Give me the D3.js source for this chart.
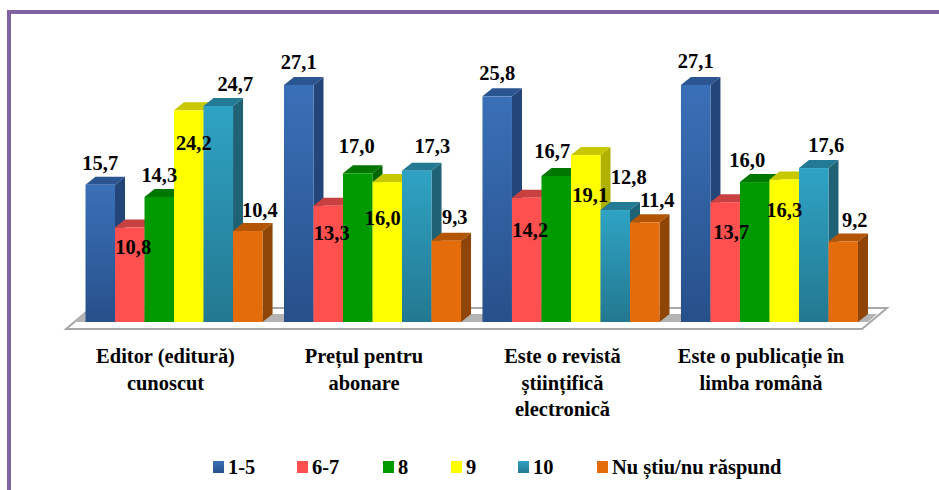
<!DOCTYPE html>
<html>
<head>
<meta charset="utf-8">
<script src="https://cdn.jsdelivr.net/npm/d3@7"></script>
<style>
html, body { margin: 0; padding: 0; background: #fff; }
text { font-family: "Liberation Serif", serif; font-weight: bold; fill: #000; }
</style>
</head>
<body>
<div id="chart"></div>
<script>
var categories = [
    ['Editor (editură)', 'cunoscut'],
    ['Prețul pentru', 'abonare'],
    ['Este o revistă', 'științifică', 'electronică'],
    ['Este o publicație în', 'limba română']
];
var seriesNames = ['1-5', '6-7', '8', '9', '10', 'Nu știu/nu răspund'];
var values15 = [15.7, 27.1, 25.8, 27.1];
var values67 = [10.8, 13.3, 14.2, 13.7];
var values8 = [14.3, 17.0, 16.7, 16.0];
var values9 = [24.2, 16.0, 19.1, 16.3];
var values10 = [24.7, 17.3, 12.8, 17.6];
var valuesNs = [10.4, 9.3, 11.4, 9.2];
var seriesValues = [values15, values67, values8, values9, values10, valuesNs];

// label nudges from the default spot above each bar, [dx, dy] by series then category
var labelNudge = [
    [[0, 0], [0, -1], [0, -1], [0, -2]],
    [[3.5, 41], [3.5, 49], [3.5, 54], [6, 52]],
    [[0, 0], [-1, -5], [-4, -3], [-7.5, 0]],
    [[5, 55], [-4.5, 58], [4.5, 62], [0, 53]],
    [[17, 0], [15.5, -3], [13.5, -11], [12.5, -1]],
    [[12, 1], [8.5, -2], [12.5, 0], [11.5, 0]]
];

var colors = [
    { front: ['#3a70b8', '#27508a'], top: '#2a5590', side: '#23457a' },
    { front: ['#ff5050', '#ff5050'], top: '#c84040', side: '#b83a3a' },
    { front: ['#009900', '#009900'], top: '#007700', side: '#006600' },
    { front: ['#ffff00', '#ffff00'], top: '#c8c800', side: '#b0b000' },
    { front: ['#2fa3c4', '#237890'], top: '#227a95', side: '#1f6275' },
    { front: ['#e46c0a', '#e46c0a'], top: '#b35500', side: '#8f4505' }
];

var width = 939, height = 490;
var depthX = 10, depthY = 8;
var baseY = 322;

var svg = d3.select('#chart').append('svg')
    .attr('width', width)
    .attr('height', height)
    .style('display', 'block');

var defs = svg.append('defs');
colors.forEach(function (c, i) {
    var grad = defs.append('linearGradient')
        .attr('id', 'front' + i)
        .attr('x1', 0).attr('y1', 0).attr('x2', 0).attr('y2', 1);
    grad.append('stop').attr('offset', '0%').attr('stop-color', c.front[0]);
    grad.append('stop').attr('offset', '100%').attr('stop-color', c.front[1]);
});

// the reference type is tall and narrow, so squeeze it sideways
function addText(tx, ty, str, size, anchor) {
    return svg.append('text')
        .attr('transform', 'translate(' + tx + ',' + ty + ') scale(0.93,1)')
        .attr('text-anchor', anchor)
        .attr('font-size', size)
        .text(str);
}

// frame runs off the right and bottom of the picture
svg.append('path')
    .attr('d', 'M9,' + height + 'V12H' + width)
    .attr('fill', 'none')
    .attr('stroke', '#8064a2')
    .attr('stroke-width', 4);

var y = d3.scaleLinear().domain([0, 27.1]).range([baseY, 85]);
var x0 = d3.scaleBand().domain(d3.range(categories.length)).range([85.5, 858]).paddingInner(0.108).paddingOuter(0);
var x1 = d3.scaleBand().domain(d3.range(seriesNames.length)).range([0, x0.bandwidth()]);

// floor
svg.append('path')
    .attr('d', 'M66,329L91,308H887L862,329Z')
    .attr('fill', '#fff')
    .attr('stroke', '#a8a8a8')
    .attr('stroke-width', 2);
svg.append('path')
    .attr('d', 'M74,322L84,314H877L868,322Z')
    .attr('fill', '#b4b4b4');

var bars = svg.append('g');
categories.forEach(function (cat, ci) {
    seriesNames.forEach(function (name, si) {
        var v = seriesValues[si][ci];
        var bx = x0(ci) + x1(si), bw = x1.bandwidth(), top = y(v);
        var g = bars.append('g');
        g.append('path')
            .attr('d', 'M' + (bx + bw) + ',' + top + 'l' + depthX + ',' + (-depthY) + 'V' + (baseY - depthY) + 'L' + (bx + bw) + ',' + baseY + 'Z')
            .attr('fill', colors[si].side);
        g.append('path')
            .attr('d', 'M' + bx + ',' + top + 'l' + depthX + ',' + (-depthY) + 'h' + bw + 'l' + (-depthX) + ',' + depthY + 'Z')
            .attr('fill', colors[si].top);
        g.append('rect')
            .attr('x', bx).attr('y', top)
            .attr('width', bw).attr('height', baseY - top)
            .attr('fill', 'url(#front' + si + ')');
    });
});

// value labels go over all the bars
categories.forEach(function (cat, ci) {
    seriesNames.forEach(function (name, si) {
        var v = seriesValues[si][ci];
        var nudge = labelNudge[si][ci];
        addText(x0(ci) + x1(si) + x1.bandwidth() / 2 + nudge[0], y(v) - 15 + nudge[1],
            v.toFixed(1).replace('.', ','), 22, 'middle');
    });
});

// category labels
categories.forEach(function (lines, ci) {
    lines.forEach(function (line, li) {
        addText(x0(ci) + x0.bandwidth() / 2 - 8.5, 363 + li * 26.5, line, 22, 'middle');
    });
});

// legend
var legendX = [213, 297, 383, 451, 518, 597];
seriesNames.forEach(function (name, si) {
    svg.append('rect')
        .attr('x', legendX[si])
        .attr('y', 461).attr('width', 11).attr('height', 12)
        .attr('fill', 'url(#front' + si + ')');
    addText(legendX[si] + 15, 474, name, 22, 'start');
});
</script>
</body>
</html>
